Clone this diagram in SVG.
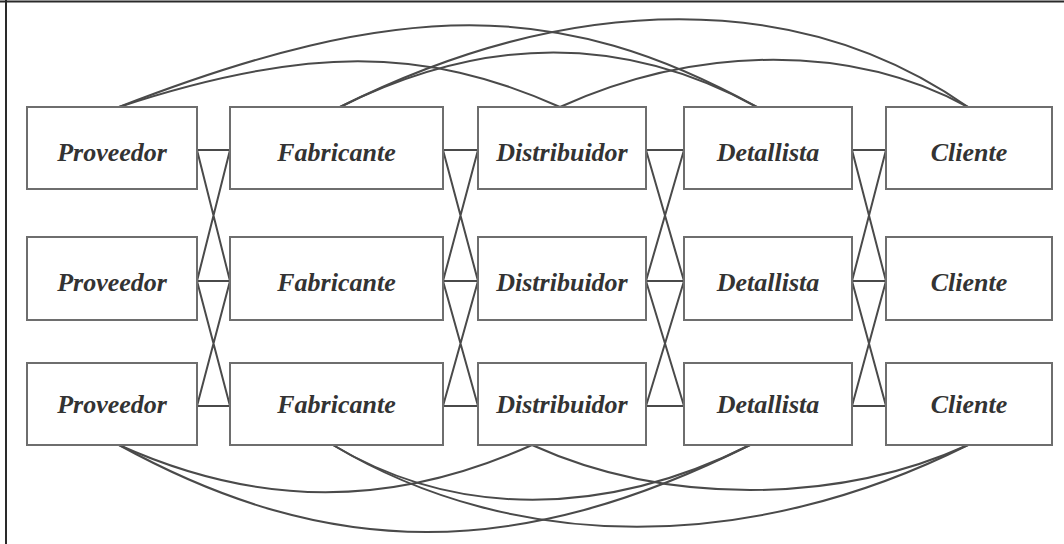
<svg xmlns="http://www.w3.org/2000/svg" width="1064" height="544" viewBox="0 0 1064 544">
  <style>
    .frame { stroke: #2a2a2a; stroke-width: 2; fill: none; }
    .box { fill: #ffffff; stroke: #6e6e6e; stroke-width: 2; }
    .link { fill: none; stroke: #4a4a4a; stroke-width: 2; }
    .lbl { font-family: "Liberation Serif", "Times New Roman", serif; font-size: 26px; font-weight: bold; font-style: italic; fill: #333333; text-anchor: middle; }
  </style>

  <rect width="1064" height="544" fill="#ffffff"/>
  <!-- border: top and left edges -->
  <path class="frame" d="M0,1.5 H1064 M6,0 V544"/>

  <g id="connectors">
    <!-- arcs over the top row -->
    <path class="link" d="M119,107 C304,46 424,46 560,107"/>
    <path class="link" d="M119,107 C400,-2 560,-2 757,107"/>
    <path class="link" d="M340,107 C486,34 624,34 757,107"/>
    <path class="link" d="M340,107 C574,-10 801,-10 968,107"/>
    <path class="link" d="M560,107 C700,44 853,44 968,107"/>
    <!-- arcs under the bottom row -->
    <path class="link" d="M119,445 C259,508 392,508 532,445"/>
    <path class="link" d="M119,445 C330,561 518,561 750,445"/>
    <path class="link" d="M333,445 C455,518 604,518 750,445"/>
    <path class="link" d="M333,445 C515,554 750,554 968,445"/>
    <path class="link" d="M532,445 C665,505 835,505 968,445"/>
    <!-- straight and crossed links between neighbouring columns -->
    <path class="link" d="M197,150 H230 M197,281 H230 M197,406 H230 M197,150 L230,281 M230,150 L197,281 M197,281 L230,406 M230,281 L197,406"/>
    <path class="link" d="M443,150 H478 M443,281 H478 M443,406 H478 M443,150 L478,281 M478,150 L443,281 M443,281 L478,406 M478,281 L443,406"/>
    <path class="link" d="M646,150 H684 M646,281 H684 M646,406 H684 M646,150 L684,281 M684,150 L646,281 M646,281 L684,406 M684,281 L646,406"/>
    <path class="link" d="M852,150 H886 M852,281 H886 M852,406 H886 M852,150 L886,281 M886,150 L852,281 M852,281 L886,406 M886,281 L852,406"/>
  </g>

  <g id="proveedor-1"><rect class="box" x="27" y="107" width="170" height="82"/><text class="lbl" x="112" y="161">Proveedor</text></g>
  <g id="proveedor-2"><rect class="box" x="27" y="237" width="170" height="83"/><text class="lbl" x="112" y="291">Proveedor</text></g>
  <g id="proveedor-3"><rect class="box" x="27" y="363" width="170" height="82"/><text class="lbl" x="112" y="413">Proveedor</text></g>

  <g id="fabricante-1"><rect class="box" x="230" y="107" width="213" height="82"/><text class="lbl" x="336.5" y="161">Fabricante</text></g>
  <g id="fabricante-2"><rect class="box" x="230" y="237" width="213" height="83"/><text class="lbl" x="336.5" y="291">Fabricante</text></g>
  <g id="fabricante-3"><rect class="box" x="230" y="363" width="213" height="82"/><text class="lbl" x="336.5" y="413">Fabricante</text></g>

  <g id="distribuidor-1"><rect class="box" x="478" y="107" width="168" height="82"/><text class="lbl" x="562" y="161">Distribuidor</text></g>
  <g id="distribuidor-2"><rect class="box" x="478" y="237" width="168" height="83"/><text class="lbl" x="562" y="291">Distribuidor</text></g>
  <g id="distribuidor-3"><rect class="box" x="478" y="363" width="168" height="82"/><text class="lbl" x="562" y="413">Distribuidor</text></g>

  <g id="detallista-1"><rect class="box" x="684" y="107" width="168" height="82"/><text class="lbl" x="768" y="161">Detallista</text></g>
  <g id="detallista-2"><rect class="box" x="684" y="237" width="168" height="83"/><text class="lbl" x="768" y="291">Detallista</text></g>
  <g id="detallista-3"><rect class="box" x="684" y="363" width="168" height="82"/><text class="lbl" x="768" y="413">Detallista</text></g>

  <g id="cliente-1"><rect class="box" x="886" y="107" width="166" height="82"/><text class="lbl" x="969" y="161">Cliente</text></g>
  <g id="cliente-2"><rect class="box" x="886" y="237" width="166" height="83"/><text class="lbl" x="969" y="291">Cliente</text></g>
  <g id="cliente-3"><rect class="box" x="886" y="363" width="166" height="82"/><text class="lbl" x="969" y="413">Cliente</text></g>
</svg>
